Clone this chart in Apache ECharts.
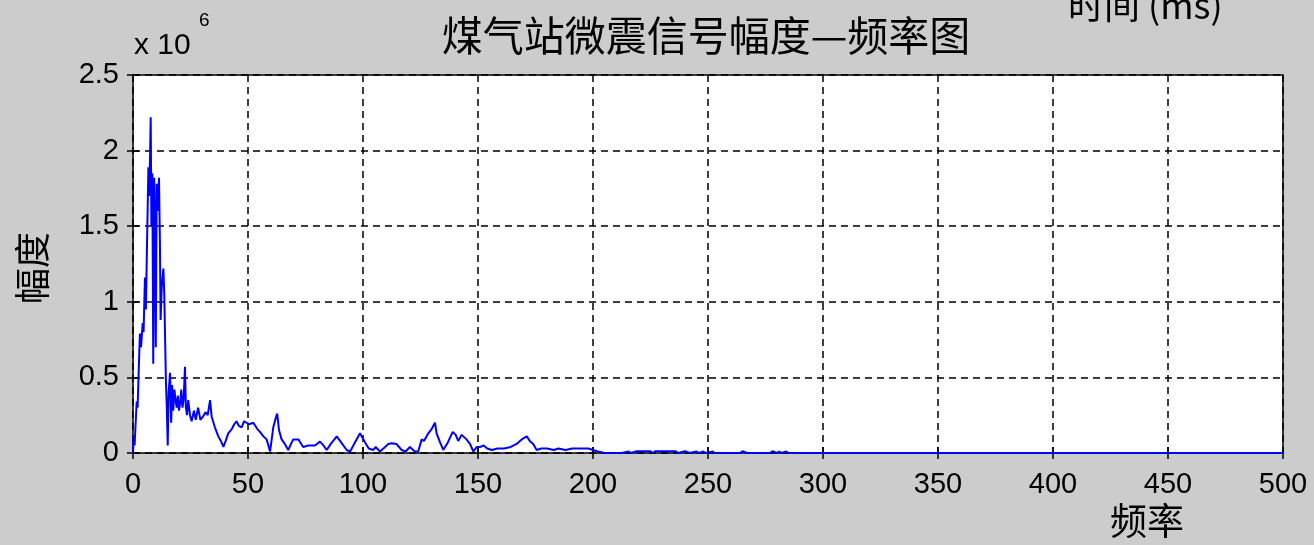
<!DOCTYPE html>
<html>
<head>
<meta charset="utf-8">
<script src="https://cdn.jsdelivr.net/npm/echarts@6/dist/echarts.min.js"></script>
<style>
  html, body { margin: 0; padding: 0; background: #cccccc; }
  #chart { width: 1314px; height: 545px; }
</style>
</head>
<body>
<div id="chart"></div>
<script>
  // 频率 (Hz) 与 幅度 (x 10^6)
  var freq = [0, 0.3, 0.7, 1.0, 1.6, 2.0, 2.5, 3.0, 3.5, 4.2, 4.6, 5.2, 5.6, 6.0, 6.7, 7.0, 7.4, 7.7, 8.0, 8.4, 8.8, 9.2, 9.6, 9.9, 10.3, 10.8, 11.3, 11.7, 12.0, 12.5, 13.2, 13.6, 14.3, 14.7, 15.1, 15.5, 16.1, 16.6, 17.0, 17.5, 18.0, 18.5, 19.0, 19.5, 20.0, 20.5, 21.0, 21.5, 22.0, 22.6, 23.0, 23.5, 24.0, 24.8,
    25.5, 26.5, 27.3, 28.3, 29.3, 30.4, 31.5, 32.5, 33.5, 34.2, 35.6, 37.1, 38.2, 39.3, 40.3, 41.4, 43, 44, 45, 46, 47.2, 48.3, 49.4, 50.5, 52.3, 54, 55.2, 56.7, 58.1, 59.6,
    61, 62.2, 62.7, 63.5, 64.6, 66, 67.5, 69, 69.7, 71.9, 74, 76.2, 79.1, 81.3, 82.8, 84.2, 86, 88.6, 90.5, 92.9, 94.4, 96.5, 98.7, 100.9, 102.5, 104.5, 105.5, 107.4, 109.6,
    111, 112.5, 114.5, 116.8, 118.5, 120.4, 122.5, 124, 125.5, 126.5, 128.4, 129.9, 131.3, 132, 133.5, 134.9, 136.9, 139, 140.3, 141.4, 142.9, 145, 146.5, 148, 149.5,
    150.9, 152.5, 154, 156, 158.5, 161.3, 164.2, 166.8, 169, 171.2, 172.5, 174, 175.5, 177.5, 180, 183, 185, 188, 191, 195, 198, 200, 202, 205,
    211, 211.7, 212.5, 215.5, 216.5, 219, 225, 226, 227, 236, 237, 240, 242, 245, 246, 248, 249, 252, 253, 264, 265, 267, 277, 278, 280, 281, 282, 284, 285, 500];
  var amp = [0, 0.11, 0.05, 0.15, 0.34, 0.30, 0.55, 0.79, 0.70, 0.86, 0.80, 1.16, 0.95, 1.30, 1.89, 1.70, 1.95, 2.22, 1.50, 1.85, 0.59, 1.82, 1.45, 0.70, 1.78, 1.60, 1.82, 1.40, 0.88, 1.10, 1.22, 1.05, 0.48, 0.30, 0.05, 0.40, 0.53, 0.20, 0.45, 0.28, 0.42, 0.35, 0.30, 0.38, 0.28, 0.33, 0.42, 0.30, 0.35, 0.57, 0.30, 0.25, 0.35, 0.25,
    0.21, 0.28, 0.22, 0.30, 0.22, 0.24, 0.27, 0.25, 0.35, 0.24, 0.17, 0.11, 0.08, 0.04, 0.08, 0.13, 0.16, 0.19, 0.21, 0.18, 0.17, 0.21, 0.20, 0.19, 0.20, 0.16, 0.14, 0.11, 0.09, 0.01,
    0.17, 0.24, 0.26, 0.15, 0.09, 0.06, 0.02, 0.07, 0.09, 0.09, 0.04, 0.05, 0.05, 0.075, 0.05, 0.02, 0.06, 0.11, 0.07, 0.02, 0.01, 0.07, 0.13, 0.07, 0.03, 0.02, 0.04, 0.01, 0.04,
    0.06, 0.065, 0.06, 0.02, 0.01, 0.04, 0.01, 0.01, 0.09, 0.08, 0.13, 0.16, 0.20, 0.13, 0.07, 0.02, 0.07, 0.14, 0.12, 0.08, 0.12, 0.09, 0.06, 0.01, 0.04,
    0.04, 0.05, 0.03, 0.02, 0.03, 0.03, 0.04, 0.06, 0.09, 0.11, 0.08, 0.06, 0.02, 0.03, 0.03, 0.02, 0.03, 0.02, 0.03, 0.03, 0.03, 0.02, 0.01, 0,
    0, 0.012, 0, 0.01, 0, 0.012, 0.012, 0, 0.012, 0.012, 0, 0.012, 0, 0.01, 0, 0.01, 0, 0.01, 0, 0, 0.012, 0, 0, 0.012, 0, 0.01, 0, 0.01, 0, 0];

  var xTicks = [0, 50, 100, 150, 200, 250, 300, 350, 400, 450, 500];
  var yTicks = [0, 0.5, 1, 1.5, 2, 2.5];

  var points = freq.map(function (f, i) { return [f, amp[i]]; });

  var myChart = echarts.init(document.getElementById('chart'));

  var labelFont = { color: '#000', fontSize: 29, fontFamily: 'Liberation Sans' };
  var gridLine = { show: true, lineStyle: { color: '#000', type: [7, 5], width: 1.5 } };

  var option = {
    backgroundColor: '#cccccc',
    animation: false,
    title: {
      text: '煤气站微震信号幅度—频率图',
      left: 701, top: 10, textAlign: 'center',
      textStyle: { color: '#000', fontSize: 41, fontWeight: 'normal', fontFamily: 'Noto Sans CJK SC' }
    },
    graphic: [
      { type: 'text', left: 1068, top: -13, style: { text: '时间 (ms)', fill: '#000', font: '36px "Noto Sans CJK SC"' } },
      { type: 'text', left: 134, top: 31, style: { text: 'x 10', fill: '#000', font: '30px "Liberation Sans"' } },
      { type: 'text', left: 199, top: 11, style: { text: '6', fill: '#000', font: '19px "Liberation Sans"' } },
      { type: 'text', left: 14, top: 232, rotation: Math.PI / 2, style: { text: '幅度', fill: '#000', font: '36px "Noto Sans CJK SC"' } },
      { type: 'text', left: 1110, top: 502, style: { text: '频率', fill: '#000', font: '37px "Noto Sans CJK SC"' } }
    ],
    grid: {
      left: 133, right: 31, top: 75, bottom: 92,
      show: true, backgroundColor: '#fff', borderColor: '#000', borderWidth: 1.5
    },
    xAxis: [{
      type: 'value', min: 0, max: 500, interval: 50,
      axisLine: { show: false },
      axisTick: { show: true, inside: true, length: 6, lineStyle: { color: '#000', width: 1.5 } },
      axisLabel: Object.assign({ margin: 17, formatter: function (v) { return xTicks.indexOf(v) >= 0 ? String(v) : ''; } }, labelFont),
      splitLine: gridLine
    }, {
      type: 'value', position: 'top', min: 0, max: 500, interval: 50,
      axisLine: { show: false },
      axisTick: { show: true, inside: true, length: 6, lineStyle: { color: '#000', width: 1.5 } },
      axisLabel: { show: false }, splitLine: { show: false }
    }],
    yAxis: [{
      type: 'value', min: 0, max: 2.5, interval: 0.5,
      axisLine: { show: false },
      axisTick: { show: true, inside: true, length: 6, lineStyle: { color: '#000', width: 1.5 } },
      axisLabel: Object.assign({ margin: 14, formatter: function (v) { return yTicks.indexOf(v) >= 0 ? String(v) : ''; } }, labelFont),
      splitLine: gridLine
    }, {
      type: 'value', position: 'right', min: 0, max: 2.5, interval: 0.5,
      axisLine: { show: false },
      axisTick: { show: true, inside: true, length: 6, lineStyle: { color: '#000', width: 1.5 } },
      axisLabel: { show: false }, splitLine: { show: false }
    }],
    series: [{
      type: 'line',
      data: points,
      xAxisIndex: 0, yAxisIndex: 0,
      showSymbol: false,
      clip: false,
      z: 5,
      lineStyle: { color: '#0000ff', width: 2 }
    }]
  };

  myChart.setOption(option);
</script>
</body>
</html>
